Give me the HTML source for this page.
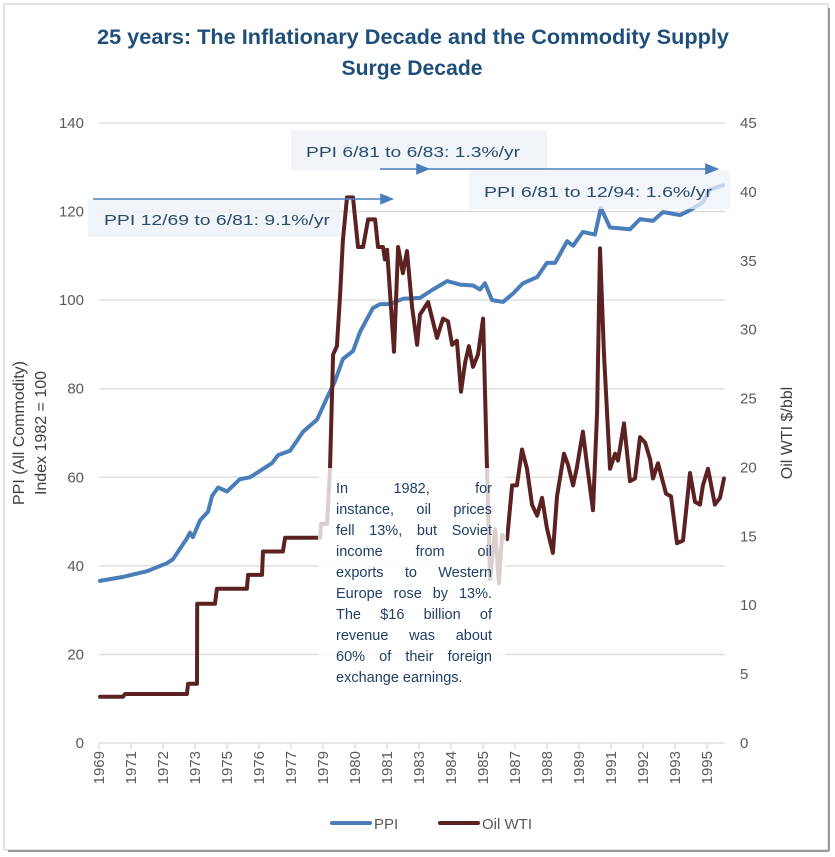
<!DOCTYPE html>
<html><head><meta charset="utf-8"><style>
html,body{margin:0;padding:0;background:#fff;}
#wrap{position:relative;width:835px;height:857px;}
svg{display:block;font-family:"Liberation Sans Narrow","Liberation Sans",sans-serif;}
#note{position:absolute;left:336px;top:479px;width:156px;font-family:"Liberation Sans",sans-serif;font-size:14.5px;line-height:21px;color:#1f3f66;}
#note div{text-align:justify;text-align-last:justify;white-space:nowrap;}
#note div.last{text-align-last:left;}
</style></head><body>
<div id="wrap">
<svg id="chart" width="835" height="857" viewBox="0 0 835 857">
<rect x="4" y="4" width="824" height="846" fill="#fff" stroke="#c8c8c8" stroke-width="1"/>
<line x1="829" y1="8" x2="829" y2="851" stroke="#999" stroke-width="2"/>
<line x1="8" y1="851" x2="829" y2="851" stroke="#999" stroke-width="2"/>
<text x="413" y="44" text-anchor="middle" font-size="21" font-weight="bold" fill="#1f4e79" textLength="632" lengthAdjust="spacingAndGlyphs">25 years: The Inflationary Decade and the Commodity Supply</text>
<text x="412" y="75" text-anchor="middle" font-size="21" font-weight="bold" fill="#1f4e79" textLength="141" lengthAdjust="spacingAndGlyphs">Surge Decade</text>
<g id="grid"></g>
<g id="axes"></g>
<g id="series"></g>
<rect x="318" y="468" width="188" height="222" fill="#fff" fill-opacity="0.78"/>
<rect x="88" y="200" width="252" height="37" fill="#eef3f8" fill-opacity="0.85"/>
<text x="104" y="225" font-size="15" fill="#2a4a6e" textLength="226" lengthAdjust="spacingAndGlyphs">PPI 12/69 to 6/81: 9.1%/yr</text>
<rect x="291" y="130" width="256" height="40" fill="#eef3f8" fill-opacity="0.85"/>
<text x="306" y="157" font-size="15" fill="#2a4a6e" textLength="214" lengthAdjust="spacingAndGlyphs">PPI 6/81 to 6/83: 1.3%/yr</text>
<rect x="469" y="170" width="261" height="39" fill="#eef3f8" fill-opacity="0.75"/>
<text x="484" y="197" font-size="15" fill="#2a4a6e" textLength="228" lengthAdjust="spacingAndGlyphs">PPI 6/81 to 12/94: 1.6%/yr</text>
<g stroke="#4a7ebb" stroke-width="1.6" fill="#4a7ebb">
<line x1="93" y1="199" x2="382" y2="199"/>
<polygon points="392,199 381,194.5 381,203.5"/>
<line x1="380" y1="169" x2="708" y2="169"/>
<polygon points="428,169 417,164.5 417,173.5"/>
<polygon points="717,169 706,164.5 706,173.5"/>
</g>
<g>
<line x1="332" y1="823" x2="370" y2="823" stroke="#4a7ebb" stroke-width="4" stroke-linecap="round"/>
<text x="374" y="829" font-size="15" fill="#595959">PPI</text>
<line x1="440" y1="823" x2="478" y2="823" stroke="#5c2222" stroke-width="4" stroke-linecap="round"/>
<text x="482" y="829" font-size="15" fill="#595959">Oil WTI</text>
</g>
</svg>
<div id="note">
<div>In 1982, for</div>
<div>instance, oil prices</div>
<div>fell 13%, but Soviet</div>
<div>income from oil</div>
<div>exports to Western</div>
<div>Europe rose by 13%.</div>
<div>The $16 billion of</div>
<div>revenue was about</div>
<div>60% of their foreign</div>
<div class="last">exchange earnings.</div>
</div>
</div>
<script>
const xTickLabels = ["1969","1971","1972","1973","1975","1976","1977","1979","1980","1981","1983","1984","1985","1987","1988","1989","1991","1992","1993","1995"];
const leftTicks = [0,20,40,60,80,100,120,140];
const rightTicks = [0,5,10,15,20,25,30,35,40,45];
const ppiDates = [1969.96,1970.92,1971.92,1972.75,1973.0,1973.58,1973.71,1973.83,1974.13,1974.46,1974.63,1974.88,1975.25,1975.79,1976.21,1976.75,1977.13,1977.38,1977.88,1978.42,1979.0,1979.42,1979.75,1980.08,1980.5,1980.79,1981.33,1981.63,1982.04,1982.58,1983.29,1983.83,1984.42,1984.96,1985.5,1985.79,1986.0,1986.29,1986.75,1987.17,1987.58,1988.17,1988.58,1988.92,1989.42,1989.67,1990.08,1990.58,1990.83,1991.21,1992.04,1992.46,1993.0,1993.42,1994.13,1994.54,1995.08,1995.38,1995.92];
const ppiValues = [36.6,37.5,38.8,40.6,41.5,46.2,47.5,46.5,50.3,52.2,55.8,57.7,56.8,59.6,60.0,61.9,63.2,65.0,66.0,70.3,73.0,78.0,81.7,86.7,88.5,92.8,98.2,99.1,99.1,100.3,100.5,102.4,104.3,103.5,103.3,102.4,103.8,100.0,99.6,101.5,103.8,105.2,108.4,108.4,113.3,112.3,115.4,114.8,120.8,116.4,116.0,118.3,117.9,119.9,119.2,120.3,122.1,125.0,125.9];
const oilDates = [1969.96,1970.92,1971.0,1973.58,1973.63,1974.0,1974.01,1974.75,1974.83,1976.08,
1976.13,1976.71,1976.75,1977.58,1977.67,1979.13,1979.17,1979.42,1979.54,1979.67,
1979.83,1979.96,1980.08,1980.25,1980.5,1980.71,1980.92,1981.13,1981.42,1981.54,
1981.75,1981.83,1981.92,1982.21,1982.38,1982.58,1982.75,1982.96,1983.17,1983.29,
1983.63,1984.0,1984.25,1984.46,1984.63,1984.83,1985.0,1985.17,1985.33,1985.5,
1985.71,1985.92,1986.08,1986.21,1986.42,1986.58,1986.71,1986.92,1987.13,1987.33,
1987.54,1987.75,1987.96,1988.17,1988.38,1988.58,1988.83,1989.0,1989.29,1989.46,
1989.67,1989.83,1990.08,1990.25,1990.5,1990.67,1990.79,1990.96,1991.21,1991.42,
1991.54,1991.79,1992.04,1992.25,1992.46,1992.67,1992.88,1993.0,1993.21,1993.54,
1993.75,1994.0,1994.25,1994.54,1994.75,1994.96,1995.08,1995.29,1995.58,1995.79,
1995.96];
const oilValues = [3.35,3.35,3.56,3.56,4.3,4.3,10.1,10.1,11.2,11.2,
12.2,12.2,13.9,13.9,14.9,14.9,15.9,15.9,19.9,28.2,
28.8,32.4,36.5,39.6,39.6,36,36,38,38,36,
36,35.1,35.8,28.4,36,34.1,35.7,31.7,28.9,31.1,
32,29.4,30.8,30.6,28.9,29.2,25.5,27.6,28.8,27.3,
28.2,30.8,20.2,11.9,15.5,11.6,15.1,14.8,18.7,18.7,
21.3,19.9,17.3,16.5,17.8,15.6,13.8,17.9,21,20.2,
18.7,20,22.6,20.2,16.9,24,35.9,28.2,19.9,21,
20.5,23.2,19,19.2,22.2,21.8,20.6,19.2,20.3,18.1,
17.9,14.5,14.7,19.6,17.5,17.3,18.7,19.9,17.3,17.8,
19.2];
const X0=99, X1=725, T0=1969.917, PX_PER_YEAR=24;
const Y0=743, Y1=123;
function xScale(t){return X0+(t-T0)*PX_PER_YEAR;}
function yLeft(v){return Y0-(v/140)*(Y0-Y1);}
function yRight(v){return Y0-(v/45)*(Y0-Y1);}
const NS="http://www.w3.org/2000/svg";
function mk(tag,attrs,parent){const e=document.createElementNS(NS,tag);for(const k in attrs)e.setAttribute(k,attrs[k]);parent.appendChild(e);return e;}
const grid=document.getElementById('grid'), axes=document.getElementById('axes'), series=document.getElementById('series');
leftTicks.forEach(v=>{
  const y=yLeft(v);
  if(v>0){const g=mk('line',{x1:X0,x2:X1,y1:y,y2:y,stroke:'#d9d9d9','stroke-width':1.3},grid);
  
  }
  const t=mk('text',{x:84,y:y+5,'text-anchor':'end','font-size':15,fill:'#595959'},axes);
  t.textContent=v;
  
  
});
rightTicks.forEach(v=>{
  const t=mk('text',{x:740,y:yRight(v)+5,'font-size':15,fill:'#595959'},axes);
  t.textContent=v;
  
  
});
const ax=mk('line',{x1:X0,x2:X1,y1:Y0,y2:Y0,stroke:'#d9d9d9','stroke-width':1.3},axes);


xTickLabels.forEach((lab,i)=>{
  const x=X0+i*32;
  const tk=mk('line',{x1:x,x2:x,y1:Y0,y2:Y0+6,stroke:'#d9d9d9','stroke-width':1.3},axes);
  
  
  const t=mk('text',{x:0,y:0,'font-size':15,fill:'#595959','text-anchor':'end',transform:`translate(${x+5},${Y0+8}) rotate(-90)`},axes);
  t.textContent=lab;
  
  
});
[['PPI (All Commodity)',24],['Index 1982 = 100',46]].forEach(([s,x])=>{
  const t=mk('text',{x:0,y:0,'font-size':16,fill:'#404040','text-anchor':'middle',transform:`translate(${x},433) rotate(-90)`},axes);
  t.textContent=s;
  
  
});
const rt=mk('text',{x:0,y:0,'font-size':16,fill:'#404040','text-anchor':'middle',transform:`translate(792,433) rotate(-90)`},axes);
rt.textContent='Oil WTI $/bbl';


const ppiPts=ppiDates.map((d,i)=>xScale(d).toFixed(1)+','+yLeft(ppiValues[i]).toFixed(1)).join(' ');
const pl=mk('polyline',{points:ppiPts,fill:'none',stroke:'#4a7ebb','stroke-width':4,'stroke-linejoin':'round','stroke-linecap':'round'},series);


const n=Math.min(oilDates.length,oilValues.length);
const oilPts=[];for(let i=0;i<n;i++)oilPts.push(xScale(oilDates[i]).toFixed(1)+','+yRight(oilValues[i]).toFixed(1));
const ol=mk('polyline',{points:oilPts.join(' '),fill:'none',stroke:'#5c2222','stroke-width':4,'stroke-linejoin':'round','stroke-linecap':'round'},series);


</script>
</body></html>
